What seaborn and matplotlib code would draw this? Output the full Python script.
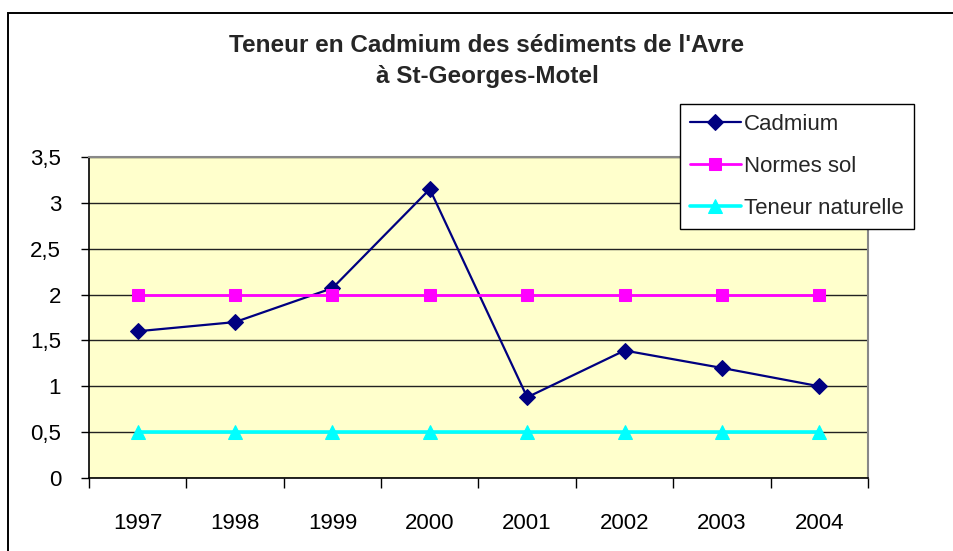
import matplotlib
matplotlib.use("Agg")
import matplotlib.pyplot as plt
from matplotlib.patches import Rectangle
from matplotlib.ticker import FuncFormatter, FixedLocator
import seaborn as sns
import pandas as pd

years = ["1997", "1998", "1999", "2000", "2001", "2002", "2003", "2004"]
cadmium = [1.6, 1.7, 2.07, 3.15, 0.88, 1.39, 1.2, 1.0]
normes_sol = [2, 2, 2, 2, 2, 2, 2, 2]
teneur_naturelle = [0.5, 0.5, 0.5, 0.5, 0.5, 0.5, 0.5, 0.5]
series_names = ["Cadmium", "Normes sol", "Teneur naturelle"]
y_ticks = [0, 0.5, 1, 1.5, 2, 2.5, 3, 3.5]

sns.set_theme(style="white")
plt.rcParams["font.family"] = ["Liberation Sans", "DejaVu Sans"]

fig = plt.figure(figsize=(9.54, 5.51), dpi=100)
W, H = 954, 551

# chart frame
fig.patches.append(Rectangle((8 / W, -0.2), 2.0, 1 - 13 / H + 0.2,
                             transform=fig.transFigure, fill=False,
                             edgecolor="black", linewidth=1.4, zorder=0))

ax = fig.add_axes([89 / W, (H - 478) / H, 779 / W, 321 / H])
ax.set_facecolor("#FFFFCC")

pos = list(range(len(years)))
styles = [
    dict(color="#000080", marker="D", markersize=8, linewidth=1.6),
    dict(color="#FF00FF", marker="s", markersize=9, linewidth=2.0),
    dict(color="#00FFFF", marker="^", markersize=10, linewidth=2.6),
]
for name, vals, st in zip(series_names, [cadmium, normes_sol, teneur_naturelle], styles):
    df = pd.DataFrame({"x": pos, "y": vals})
    sns.lineplot(data=df, x="x", y="y", ax=ax, label=name, color=st["color"],
                 marker=st["marker"], markersize=st["markersize"],
                 markeredgecolor=st["color"], linewidth=st["linewidth"], zorder=3)

ax.set_xlim(-0.5, len(years) - 0.5)
ax.set_ylim(0, 3.5)
ax.set_xlabel("")
ax.set_ylabel("")

ax.set_yticks(y_ticks)
ax.yaxis.set_major_formatter(FuncFormatter(lambda v, p: f"{v:g}".replace(".", ",")))
ax.grid(axis="y", color="#222222", linewidth=1.0)
ax.grid(axis="x", visible=False)
ax.set_axisbelow(True)

ax.xaxis.set_major_locator(FixedLocator(pos))
ax.set_xticklabels(years)
ax.xaxis.set_minor_locator(FixedLocator([p + 0.5 for p in [-1] + pos]))
ax.tick_params(axis="x", which="major", length=0, pad=25, labelsize=16, colors="black")
ax.tick_params(axis="x", which="minor", length=7, width=1, color="black", direction="out", bottom=True)
ax.tick_params(axis="y", which="major", length=6, width=1, color="black", direction="out",
               left=True, labelsize=16, pad=14, labelcolor="black")

for side in ["left", "bottom"]:
    ax.spines[side].set_color("black")
    ax.spines[side].set_linewidth(1.2)
for side in ["top", "right"]:
    ax.spines[side].set_color("#888888")
    ax.spines[side].set_linewidth(1.5)
    ax.spines[side].set_visible(True)

leg = ax.legend(loc="upper right", bbox_to_anchor=((914 - 89) / 779, (478 - 104) / 321),
                borderaxespad=0, frameon=True, fancybox=False, fontsize=16,
                handlelength=2.3, handletextpad=0.15, labelspacing=0.95,
                borderpad=0.45, edgecolor="black", facecolor="white", framealpha=1)
leg.get_frame().set_linewidth(1.0)
leg.set_zorder(10)

fig.text(487 / W, 1 - 45 / H, "Teneur en Cadmium des sédiments de l'Avre",
         ha="center", va="center", fontsize=17.5, fontweight="bold")
fig.text(487 / W, 1 - 76 / H, "à St-Georges-Motel",
         ha="center", va="center", fontsize=17.5, fontweight="bold")

fig.savefig("out.png", dpi=100, facecolor="white")
